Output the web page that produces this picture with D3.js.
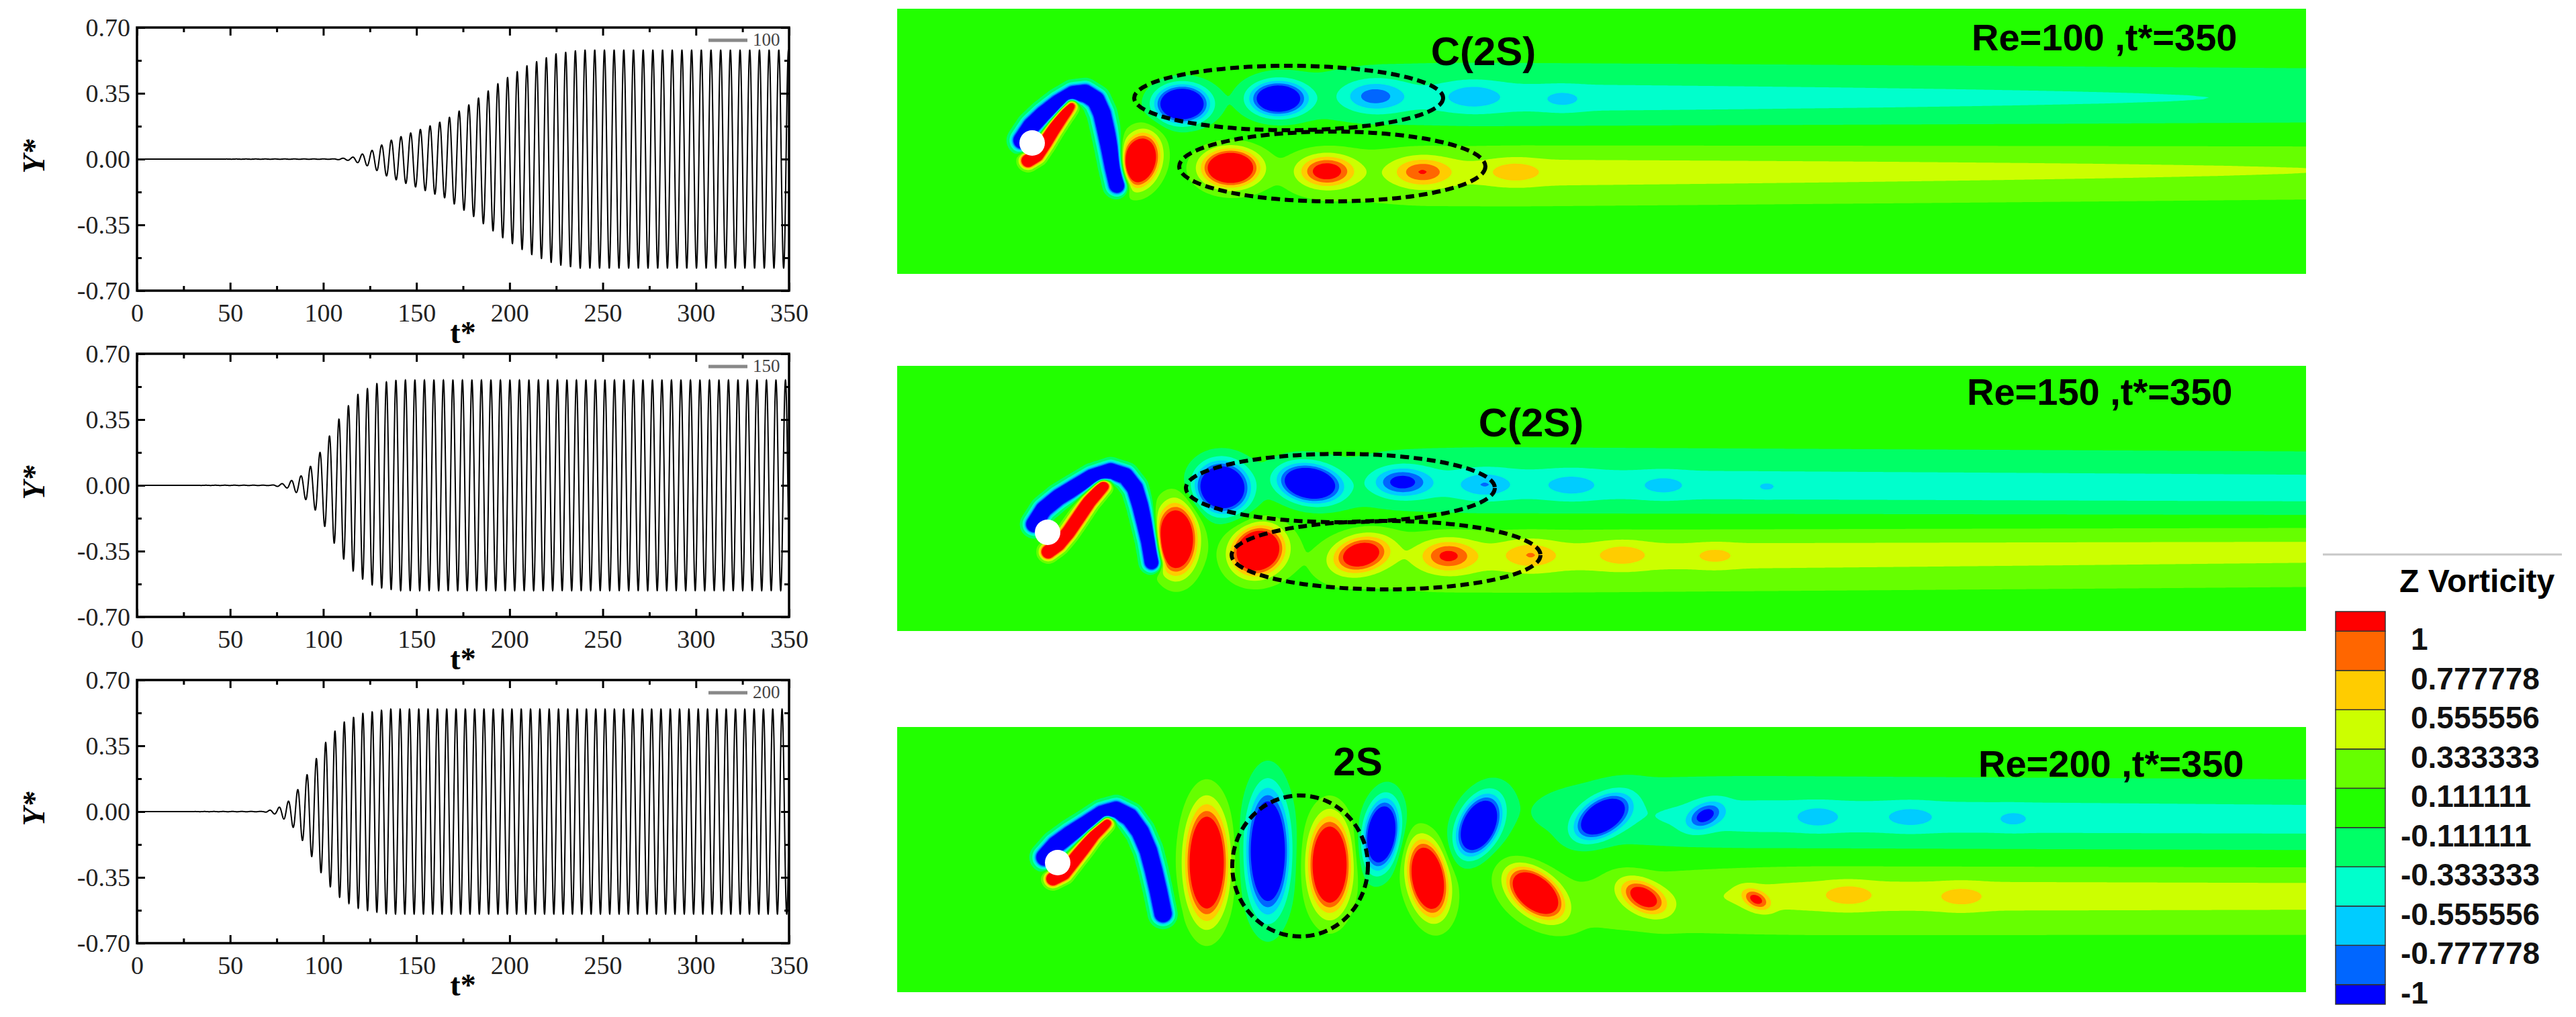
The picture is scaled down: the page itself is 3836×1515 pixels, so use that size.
<!DOCTYPE html>
<html><head><meta charset="utf-8">
<script src="https://cdn.jsdelivr.net/npm/d3@7"></script>
<style>body{margin:0;background:#fff}svg{display:block}</style>
</head><body>
<script>
// ---------------- DATA ----------------
const reLabels = ["100","150","200"];
const tTicks = [0,50,100,150,200,250,300,350];
const tMinor = [25,75,125,175,225,275,325];
const yTicks = [-0.70,-0.35,0.00,0.35,0.70];
const yMinor = [-0.525,-0.175,0.175,0.525];
// amplitude envelopes [t*, amplitude]
const env100 = [[0,0],[105,0.001],[115,0.008],[125,0.04],[135,0.095],[150,0.15],[165,0.205],[180,0.3],[195,0.41],[210,0.5],[225,0.56],[238,0.58],[350,0.58]];
const env150 = [[0,0],[72,0.001],[80,0.012],[88,0.05],[95,0.12],[102,0.24],[110,0.38],[118,0.48],[128,0.54],[140,0.56],[350,0.56]];
const env200 = [[0,0],[68,0.001],[75,0.015],[82,0.06],[88,0.14],[95,0.26],[102,0.38],[110,0.47],[120,0.52],[135,0.545],[350,0.545]];
const periods = [5.2,5.1,5.0];   // oscillation period

// contour levels and colours
const levels = [-1,-0.777778,-0.555556,-0.333333,-0.111111,0.111111,0.333333,0.555556,0.777778,1];
const levelLabels = ["1","0.777778","0.555556","0.333333","0.111111","-0.111111","-0.333333","-0.555556","-0.777778","-1"];
const bandColors = ["#0000ff","#0066ff","#00ccff","#00ffcc","#00ff66","#22ff00","#66ff00","#ccff00","#ffcc00","#ff6600","#ff0000"];

// vortex field data (flow-field units): [x, y, strength, rx, ry, tilt]
const vort100 = [[424,142,-2.4,34,24,0],[567,134,-2.0,36,22,0],[710,130,-0.62,42,22,0],[857,130,-0.3,40,20,0],[991,135,-0.2,30,15,0],
 [361,226,2.6,24,34,15],[496,237,2.3,36,24,0],[639,242,1.15,38,22,0],[781,243,0.68,38,20,0],[920,243,0.3,35,16,0]];
const vort150 = [[415,258,2.6,26,44,0],[484,181,-2.5,34,32,20],[614,175,-2.2,40,24,10],[751,173,-0.9,38,20,0],[874,177,-0.35,36,18,0],
 [1004,178,-0.25,38,18,0],[1141,178,-0.22,34,16,0],[1295,180,-0.15,20,10,0],
 [537,275,2.4,34,30,-30],[690,281,1.4,38,24,-15],[820,283,0.75,36,22,0],[943,281,0.35,36,20,0],[1080,281,0.28,36,18,0],[1218,283,0.22,30,14,0]];
const vort200 = [[461,202,2.6,26,70,0],[552,185,-2.6,26,76,0],[644,205,2.6,26,58,0],[721,160,-2.4,22,45,8],[790,225,2.5,24,48,-10],
 [866,147,-2.5,24,40,25],[950,247,2.4,24,40,-50],[1050,134,-2.0,22,38,55],[1111,253,1.2,20,34,-60],[1203,132,-0.8,16,26,60],
 [1279,257,0.8,12,20,-60],[1371,134,-0.3,30,15,0],[1509,134,-0.25,36,16,0],[1662,137,-0.22,24,12,0],[1417,250,0.3,34,16,0],[1585,253,0.25,34,16,0]];
// shear layers: [strength, width, polyline]
const shear100 = [[-2.6,13,[[186,196],[200,175],[218,158],[240,141],[262,128],[280,126],[296,136],[305,156],[311,182],[317,210],[322,236],[328,262]]],[2.6,10,[[195,226],[208,218],[220,200],[232,180],[245,160],[258,142]]]];
const shear150 = [[-2.6,12,[[204,236],[218,214],[240,196],[263,182],[290,166],[318,157],[340,164],[354,182],[362,208],[369,236],[375,262],[380,292]]],[2.6,10,[[225,277],[240,266],[255,248],[270,226],[286,202],[306,178]]]];
const shear200 = [[-2.6,13,[[220,194],[236,176],[258,160],[282,145],[305,130],[326,124],[346,134],[362,156],[374,184],[382,214],[389,244],[396,278]]],[2.6,10,[[232,226],[248,218],[262,200],[276,182],[292,160],[312,140]]]];
// wake bands: [yc0, yc1, width, amp0, amp1, xStart, xFull]
const wake100 = [[134,134,32,-0.3,-0.2,500,900],[134,134,70,-0.17,-0.13,300,800],[243,240,30,0.3,0.22,550,950],[243,240,70,0.17,0.13,300,800]];
const wake150 = [[178,185,35,-0.3,-0.3,600,900],[180,185,75,-0.17,-0.17,350,800],[283,275,32,0.3,0.27,600,950],[283,275,75,0.17,0.17,350,800]];
const wake200 = [[135,140,38,-0.3,-0.28,900,1300],[135,140,80,-0.17,-0.17,700,1100],[250,250,35,0.3,0.28,1000,1400],[250,250,80,0.17,0.17,700,1100]];
const cylinders = [[201,200],[224,248],[239,202]];
// dashed pattern outlines [cx, cy, rx, ry]
const outlines = [[[583,133,230,48],[648,235,228,52]],[[660,182,230,51],[728,282,230,51]],[[600,207,101,105]]];
const patternLabels = ["C(2S)","C(2S)","2S"];
const runLabels = ["Re=100 ,t*=350","Re=150 ,t*=350","Re=200 ,t*=350"];

// ---------------- LAYOUT ----------------
const W=3836,H=1515;
const svg=d3.select("body").append("svg").attr("width",W).attr("height",H);
const plotTops=[41,527,1013], plotH=392, plotL=204, plotR=1175;
const envs=[env100,env150,env200];

plotTops.forEach((top,i)=>{
  const g=svg.append("g");
  const x=d3.scaleLinear().domain([0,350]).range([plotL,plotR]);
  const y=d3.scaleLinear().domain([-0.7,0.7]).range([top+plotH,top]);
  const e=envs[i];
  const amp=d3.scaleLinear().domain(e.map(d=>d[0])).range(e.map(d=>d[1])).clamp(true);
  const pts=d3.range(0,350.001,0.04).map(t=>[t,amp(t)*Math.sin(2*Math.PI*t/periods[i])]);
  g.append("path").attr("d",d3.line().x(d=>x(d[0])).y(d=>y(d[1]))(pts))
    .attr("fill","none").attr("stroke","#000").attr("stroke-width",2);
  const font="'Liberation Serif','Times New Roman',serif";
  const mk=(ax,pos,ticks,size,labels)=>{
    const a=g.append("g").attr("transform",pos).call(ax.tickValues(ticks).tickSize(-size).tickPadding(10).tickFormat(labels?null:()=>""));
    a.select(".domain").remove();
    a.selectAll("line").attr("stroke","#000").attr("stroke-width",3);
    a.selectAll("text").attr("font-family",font).attr("font-size",38).attr("fill","#222");
    return a;
  };
  const bx=mk(d3.axisBottom(x).tickFormat(d3.format("d")),`translate(0,${top+plotH})`,tTicks,12,true);
  mk(d3.axisBottom(x),`translate(0,${top+plotH})`,tMinor,7,false);
  mk(d3.axisTop(x),`translate(0,${top})`,tTicks,12,false);
  mk(d3.axisTop(x),`translate(0,${top})`,tMinor,7,false);
  const ly=mk(d3.axisLeft(y).tickFormat(d3.format(".2f")),`translate(${plotL},0)`,yTicks,12,true);
  ly.selectAll("text").text(d=>d3.format(".2f")(d).replace("−","-"));
  mk(d3.axisLeft(y),`translate(${plotL},0)`,yMinor,7,false);
  mk(d3.axisRight(y),`translate(${plotR},0)`,yTicks,12,false);
  mk(d3.axisRight(y),`translate(${plotR},0)`,yMinor,7,false);
  bx.selectAll("text").attr("dy","0.95em");
  g.append("rect").attr("x",plotL).attr("y",top).attr("width",plotR-plotL).attr("height",plotH)
    .attr("fill","none").attr("stroke","#000").attr("stroke-width",3.5);
  g.append("line").attr("x1",plotR-120).attr("x2",plotR-62).attr("y1",top+19).attr("y2",top+19).attr("stroke","#888").attr("stroke-width",5);
  g.append("text").attr("x",plotR-54).attr("y",top+27).attr("font-family",font).attr("font-size",27).attr("fill","#444").text(reLabels[i]);
  g.append("text").attr("transform",`translate(66,${top+plotH/2-4}) rotate(-90)`).attr("text-anchor","middle")
    .attr("font-family",font).attr("font-style","italic").attr("font-weight","bold").attr("font-size",46).text("Y*");
  g.append("text").attr("x",(plotL+plotR)/2).attr("y",top+plotH+78).attr("text-anchor","middle")
    .attr("font-family",font).attr("font-weight","bold").attr("font-size",46).text("t*");
});

// ---------------- CONTOUR PANELS ----------------
const panelL=1336, panelW=2098, panelH=395, panelTops=[13,545,1083];
const vorts=[vort100,vort150,vort200], shears=[shear100,shear150,shear200], wakes=[wake100,wake150,wake200];
const step=3, nx=Math.ceil(panelW/step)+1, ny=Math.ceil(panelH/step)+1;
function segDist(px,py,ax,ay,bx,by){const dx=bx-ax,dy=by-ay;let t=((px-ax)*dx+(py-ay)*dy)/(dx*dx+dy*dy);t=Math.max(0,Math.min(1,t));const qx=ax+t*dx-px,qy=ay+t*dy-py;return Math.sqrt(qx*qx+qy*qy);}
const sstep=t=>t<=0?0:t>=1?1:t*t*(3-2*t);

panelTops.forEach((top,i)=>{
  const fx=d3.scaleLinear().domain([0,panelW]).range([panelL,panelL+panelW]);
  const fy=d3.scaleLinear().domain([0,panelH]).range([top,top+panelH]);
  const vals=new Float64Array(nx*ny);
  for(let j=0;j<ny;j++)for(let k=0;k<nx;k++){
    const X=k*step,Y=j*step;let v=0;
    for(const b of vorts[i]){const a=b[5]*Math.PI/180,dx=X-b[0],dy=Y-b[1];
      const u=dx*Math.cos(a)+dy*Math.sin(a),w=-dx*Math.sin(a)+dy*Math.cos(a);
      const q=(u/b[3])**2+(w/b[4])**2; if(q<30)v+=b[2]*Math.exp(-q);}
    for(const s of shears[i]){let d=1e9;const p=s[2];for(let m=0;m<p.length-1;m++)d=Math.min(d,segDist(X,Y,p[m][0],p[m][1],p[m+1][0],p[m+1][1]));
      v+=s[0]*Math.exp(-((d/s[1])**2));}
    for(const wk of wakes[i]){const [y0,y1,wd,a0,a1,x0,x1]=wk;let A,yc;
      if(X<x1){A=a0*sstep((X-x0)/(x1-x0));yc=y0;}else{const t=(X-x1)/(panelW-x1);A=a0+(a1-a0)*t;yc=y0+(y1-y0)*t;}
      v+=A*Math.exp(-(((Y-yc)/wd)**2));}
    vals[j*nx+k]=v;
  }
  const g=svg.append("g");
  const cid="clip"+i;
  g.append("clipPath").attr("id",cid).append("rect").attr("x",fx(0)).attr("y",fy(0)).attr("width",panelW).attr("height",panelH);
  const gc=g.append("g").attr("clip-path",`url(#${cid})`);
  gc.append("rect").attr("x",fx(0)).attr("y",fy(0)).attr("width",panelW).attr("height",panelH).attr("fill",bandColors[0]);
  const cs=d3.contours().size([nx,ny]).thresholds(levels)(vals);
  const proj=d3.geoTransform({point:function(px,py){this.stream.point(fx(px*step-step/2),fy(py*step-step/2));}});
  const path=d3.geoPath(proj);
  gc.selectAll("path.c").data(cs).join("path").attr("d",path).attr("fill",(d,m)=>bandColors[m+1]);
  gc.append("circle").attr("cx",fx(cylinders[i][0])).attr("cy",fy(cylinders[i][1])).attr("r",19).attr("fill","#fff");
  outlines[i].forEach(o=>gc.append("ellipse").attr("cx",fx(o[0])).attr("cy",fy(o[1])).attr("rx",o[2]).attr("ry",o[3])
    .attr("fill","none").attr("stroke","#000").attr("stroke-width",6).attr("stroke-dasharray","13,7"));
  const sans="'Liberation Sans',Arial,sans-serif";
  const lab=[[873,84],[944,105],[686,72]][i];
  g.append("text").attr("x",fx(lab[0])).attr("y",fy(lab[1])).attr("text-anchor","middle").attr("font-family",sans)
    .attr("font-weight","bold").attr("font-size",60).text(patternLabels[i]);
  const rl=[[1600,62],[1593,58],[1610,74]][i];
  g.append("text").attr("x",fx(rl[0])).attr("y",fy(rl[1])).attr("font-family",sans).attr("font-weight","bold").attr("font-size",56).text(runLabels[i]);
});

// ---------------- COLOUR BAR ----------------
const sans="'Liberation Sans',Arial,sans-serif";
svg.append("line").attr("x1",3459).attr("x2",3815).attr("y1",826).attr("y2",826).attr("stroke","#c8c8c8").attr("stroke-width",3);
svg.append("text").attr("x",3573).attr("y",882).attr("font-family",sans).attr("font-weight","bold").attr("font-size",48).text("Z Vorticity");
const cy=d3.scaleLinear().domain([1.111111,-1.111111]).range([911,1496]);
const edges=[-1.111111,...levels,1.111111];
bandColors.forEach((c,m)=>{
  svg.append("rect").attr("x",3478).attr("width",74).attr("y",cy(edges[m+1])).attr("height",cy(edges[m])-cy(edges[m+1]))
    .attr("fill",c).attr("stroke","#333").attr("stroke-width",1.5);
});
levelLabels.forEach(t=>{
  const v=+t;
  svg.append("text").attr("x",t.startsWith("-")?3575:3590).attr("y",cy(v)+28).attr("font-family",sans)
    .attr("font-weight","bold").attr("font-size",46).attr("fill","#111").text(t);
});
</script>
</body></html>
